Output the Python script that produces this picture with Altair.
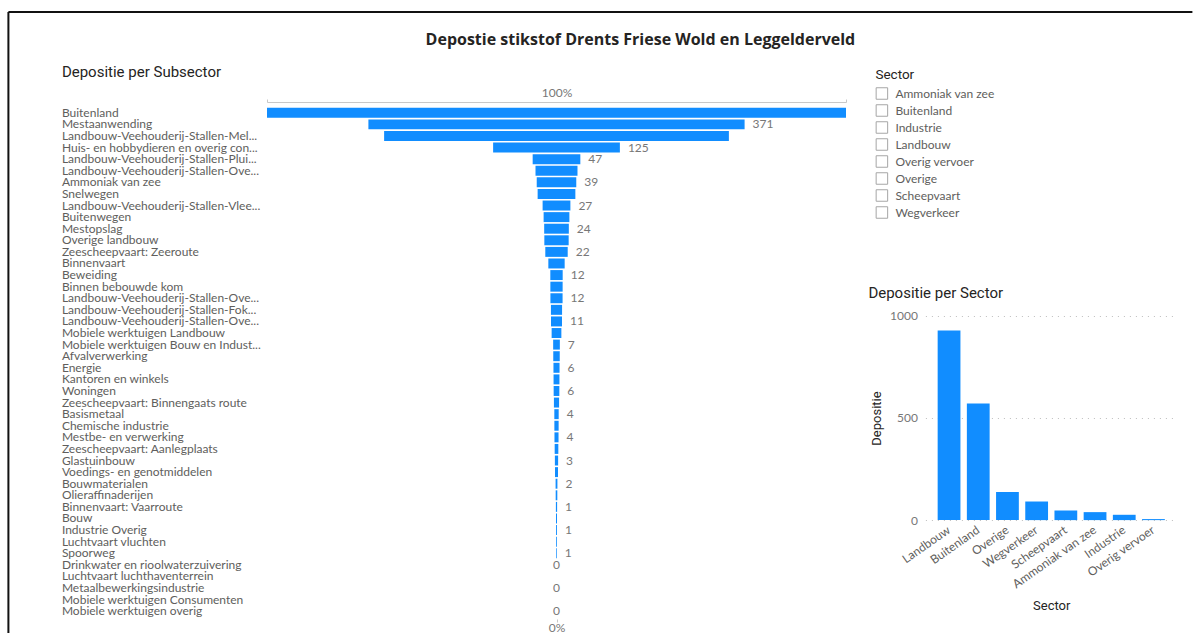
import altair as alt
import pandas as pd

# ---------------------------------------------------------------- data
subsectors = [
    "Buitenland",
    "Mestaanwending",
    "Landbouw-Veehouderij-Stallen-Mel...",
    "Huis- en hobbydieren en overig con...",
    "Landbouw-Veehouderij-Stallen-Plui...",
    "Landbouw-Veehouderij-Stallen-Ove...",
    "Ammoniak van zee",
    "Snelwegen",
    "Landbouw-Veehouderij-Stallen-Vlee...",
    "Buitenwegen",
    "Mestopslag",
    "Overige landbouw",
    "Zeescheepvaart: Zeeroute",
    "Binnenvaart",
    "Beweiding",
    "Binnen bebouwde kom",
    "Landbouw-Veehouderij-Stallen-Ove...",
    "Landbouw-Veehouderij-Stallen-Fok...",
    "Landbouw-Veehouderij-Stallen-Ove...",
    "Mobiele werktuigen Landbouw",
    "Mobiele werktuigen Bouw en Indust...",
    "Afvalverwerking",
    "Energie",
    "Kantoren en winkels",
    "Woningen",
    "Zeescheepvaart: Binnengaats route",
    "Basismetaal",
    "Chemische industrie",
    "Mestbe- en verwerking",
    "Zeescheepvaart: Aanlegplaats",
    "Glastuinbouw",
    "Voedings- en genotmiddelen",
    "Bouwmaterialen",
    "Olieraffinaderijen",
    "Binnenvaart: Vaarroute",
    "Bouw",
    "Industrie Overig",
    "Luchtvaart vluchten",
    "Spoorweg",
    "Drinkwater en rioolwaterzuivering",
    "Luchtvaart luchthaventerrein",
    "Metaalbewerkingsindustrie",
    "Mobiele werktuigen Consumenten",
    "Mobiele werktuigen overig",
]
subsector_values = [
    571, 371, 340, 125, 47, 41.4, 39, 37.2, 27.4, 25.4, 24.3, 24.0, 22.1, 16.1,
    12.2, 12.1, 12.0, 11.0, 10.8, 9.6, 6.6, 6.4, 6.0, 5.8, 5.6, 5.1, 4.3, 4.2,
    4.0, 3.6, 3.2, 3.0, 1.8, 1.6, 1.2, 1.0, 0.9, 0.8, 0.7, 0, 0, 0, 0, 0,
]
# rows whose value is printed next to the bar
labelled_rows = [1, 3, 4, 6, 8, 10, 12, 14, 16, 18, 20, 22, 24, 26, 28, 30,
                 32, 34, 36, 38, 39, 41, 43]

sectors = ["Landbouw", "Buitenland", "Overige", "Wegverkeer", "Scheepvaart",
           "Ammoniak van zee", "Industrie", "Overig vervoer"]
sector_values = [928, 571, 138, 91, 47, 39, 26, 5]

# ---------------------------------------------------------------- style
BLUE = "#118DFF"
DARK = "#252423"
GREY = "#605E5C"
LABEL_FONT = "Lato"
HEAD_FONT = "Roboto"

# truncated names repeat, so every row gets a unique key (padded with
# trailing spaces, which do not show up in the rendered label)
keys, seen = [], {}
for name in subsectors:
    seen[name] = seen.get(name, -1) + 1
    keys.append(name + " " * seen[name])

funnel = pd.DataFrame({
    "rank": list(range(len(subsectors))),
    "Subsector": keys,
    "Depositie": subsector_values,
})
funnel["links"] = -funnel["Depositie"] / 2
funnel["rechts"] = funnel["Depositie"] / 2
funnel["label"] = funnel["rank"].isin(labelled_rows)
half = max(subsector_values) / 2

x_scale = alt.Scale(domain=[-half, half], nice=False, zero=False)
y_scale = alt.Scale(paddingInner=0.14, paddingOuter=0.07)

funnel_bars = alt.Chart(funnel).mark_bar(color=BLUE).encode(
    x=alt.X("links:Q", scale=x_scale,
            axis=alt.Axis(orient="top", values=[-half, half], labels=False,
                          ticks=True, tickSize=3, tickColor="#c8c8c8",
                          domainColor="#c8c8c8", grid=False, offset=5,
                          title="100%", titleFont=LABEL_FONT,
                          titleFontSize=12, titleFontWeight="normal",
                          titleColor="#777777", titlePadding=-1)),
    x2="rechts:Q",
    y=alt.Y("Subsector:N", sort=keys, scale=y_scale,
            axis=alt.Axis(labelAlign="left", labelBaseline="middle",
                          labelPadding=205.6, ticks=False, domain=False,
                          labelFont=LABEL_FONT,
                          labelFontSize=12, labelColor=GREY, labelLimit=400,
                          title="Depositie per Subsector", titleAngle=0,
                          titleX=-205.6, titleY=-36, titleAlign="left",
                          titleBaseline="middle", titleFont=HEAD_FONT,
                          titleFontSize=15, titleFontWeight="normal",
                          titleColor=DARK)),
)

value_text = alt.Chart(funnel).transform_filter(
    "datum.label && datum.Depositie > 0"
).mark_text(align="left", baseline="middle", dx=8, font=LABEL_FONT,
            fontSize=12, color="#777777").encode(
    x=alt.X("rechts:Q", scale=x_scale, axis=None),
    y=alt.Y("Subsector:N", sort=keys, scale=y_scale, axis=None),
    text=alt.Text("Depositie:Q", format=".0f"),
)

zero_text = alt.Chart(funnel).transform_filter(
    "datum.label && datum.Depositie == 0"
).mark_text(align="center", baseline="middle", font=LABEL_FONT,
            fontSize=12, color="#777777").encode(
    x=alt.X("rechts:Q", scale=x_scale,
            axis=alt.Axis(orient="bottom", values=[0], labelExpr="'0%'",
                          domain=False, ticks=True, tickSize=3,
                          tickColor="#c8c8c8", grid=False, offset=2,
                          labelFont=LABEL_FONT, labelFontSize=12,
                          labelColor="#777777", labelPadding=0, title=None)),
    y=alt.Y("Subsector:N", sort=keys, scale=y_scale, axis=None),
    text=alt.Text("Depositie:Q", format=".0f"),
)

# page frame along the top and left edge
frame = pd.DataFrame({"rand": ["boven", "links"]})
frame_top = alt.Chart(frame).transform_filter("datum.rand == 'boven'").mark_rule(
    color="#111111", strokeWidth=2).encode(
    x=alt.value(-258.6), x2=alt.value(925.4), y=alt.value(-94.9))
frame_left = alt.Chart(frame).transform_filter("datum.rand == 'links'").mark_rule(
    color="#111111", strokeWidth=2).encode(
    x=alt.value(-258.6), y=alt.value(-94.9), y2=alt.value(530))

left = alt.layer(frame_top, frame_left, funnel_bars, value_text, zero_text).resolve_axis(
    x="independent", y="independent").properties(width=579, height=510)

# ---------------------------------------------------------------- sector bars
sector_df = pd.DataFrame({"Sector": sectors, "Depositie": sector_values})
sx = alt.X("Sector:N", sort=sectors,
           scale=alt.Scale(paddingInner=0.22, paddingOuter=0.42),
           axis=alt.Axis(labelAngle=325, labelAlign="right",
                         labelBaseline="top", labelPadding=4, labelOffset=-3,
                         ticks=False, domain=False, labelFont=LABEL_FONT,
                         labelFontSize=12, labelColor=GREY, title="Sector",
                         titleFont=HEAD_FONT, titleFontSize=13,
                         titleFontWeight="normal", titleColor=DARK,
                         titlePadding=10))
sy_scale = alt.Scale(domain=[0, 2022], nice=False)

sector_bars = alt.Chart(sector_df).mark_bar(color=BLUE).encode(
    x=sx,
    y=alt.Y("Depositie:Q", scale=sy_scale,
            axis=alt.Axis(values=[0, 500, 1000], format="d", grid=True,
                          gridDash=[1, 5], gridColor="#bdbdbd", domain=False,
                          ticks=False, labelFont=LABEL_FONT, labelFontSize=12,
                          labelColor="#777777", labelPadding=8,
                          title="Depositie", titleFont=HEAD_FONT,
                          titleFontSize=13, titleFontWeight="normal",
                          titleColor=DARK, titleX=-49, titleY=311,
                          titleAngle=270, titleBaseline="middle",
                          titleAlign="center")),
)

sector_legend = alt.Chart(sector_df).mark_point(
    filled=False, size=0, color="#a6a6a6").encode(
    x=alt.X("Sector:N", sort=sectors, axis=None),
    y=alt.Y("Depositie:Q", scale=sy_scale, axis=None),
    shape=alt.Shape("Sector:N", scale=alt.Scale(range=["square"]),
                    legend=alt.Legend(orient="none", legendX=-50, legendY=-39,
                                      title="Sector", titleFont=HEAD_FONT,
                                      titleFontSize=13.5, titleFontWeight="normal",
                                      titleColor=DARK, titlePadding=5.5,
                                      symbolType="square", symbolSize=132,
                                      symbolStrokeWidth=1,
                                      symbolStrokeColor="#a6a6a6",
                                      symbolFillColor="white",
                                      symbolOpacity=1,
                                      labelFont=LABEL_FONT, labelFontSize=12,
                                      labelColor=GREY, labelOffset=7,
                                      rowPadding=0)),
)

right = alt.layer(sector_bars, sector_legend).resolve_axis(
    x="independent", y="independent"
).properties(
    width=251.7, height=413.1,
    title=alt.TitleParams("Depositie per Sector", anchor="start",
                          frame="group", dx=-57, dy=233, offset=0,
                          font=HEAD_FONT, fontSize=15, fontWeight="normal",
                          color=DARK),
)

chart = alt.hconcat(left, right, spacing=79.4, bounds="flush").resolve_legend(
    shape="independent"
).properties(
    title=alt.TitleParams("Depostie stikstof Drents Friese Wold en Leggelderveld",
                          anchor="middle", frame="bounds", dx=40, dy=37,
                          offset=0, font="Open Sans", fontSize=16,
                          fontWeight="bold", color=DARK),
    padding={"left": 7, "top": 11, "right": 0, "bottom": 0},
    background="white",
).configure_view(stroke=None)

chart.save("out.html", embed_options={"renderer": "svg", "actions": False})
